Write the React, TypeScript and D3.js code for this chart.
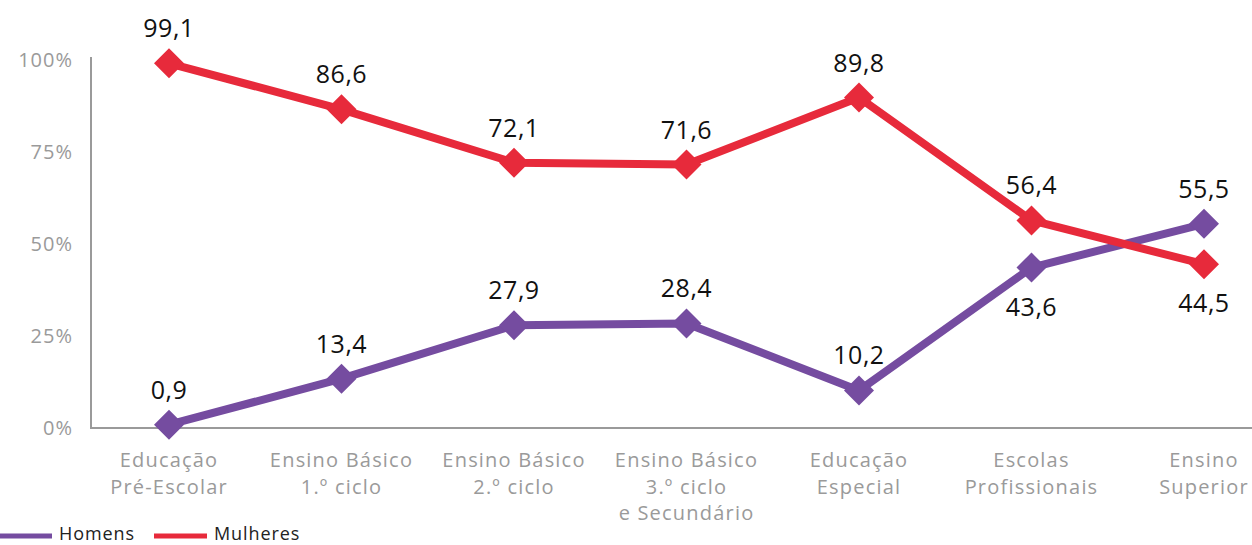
import React from "react";
import * as d3 from "d3";

const categories: string[][] = [
  ["Educação", "Pré-Escolar"],
  ["Ensino Básico", "1.º ciclo"],
  ["Ensino Básico", "2.º ciclo"],
  ["Ensino Básico", "3.º ciclo", "e Secundário"],
  ["Educação", "Especial"],
  ["Escolas", "Profissionais"],
  ["Ensino", "Superior"],
];
const homens = [0.9, 13.4, 27.9, 28.4, 10.2, 43.6, 55.5];
const mulheres = [99.1, 86.6, 72.1, 71.6, 89.8, 56.4, 44.5];
const yTicks = [0, 25, 50, 75, 100];
// label placement: true = above
const homensAbove = [true, true, true, true, true, false, true];
const mulheresAbove = [true, true, true, true, true, true, false];

const W = 1252;
const H = 545;
const PURPLE = "#754ca0";
const RED = "#e72a3b";
const GRAY = "#9a9a9a";
const FONT = "'Open Sans', sans-serif";

export default function App() {
  const idx = d3.range(categories.length);
  const x = d3.scalePoint<number>().domain(idx).range([169, 1204]);
  const y = d3.scaleLinear().domain([0, 100]).range([428, 60]);
  const line = d3
    .line<number>()
    .x((_, i) => x(i)!)
    .y((d) => y(d));
  const diamond = (cx: number, cy: number, r: number) =>
    `M${cx},${cy - r}L${cx + r},${cy}L${cx},${cy + r}L${cx - r},${cy}Z`;

  const series = [
    { name: "Homens", data: homens, color: PURPLE, above: homensAbove },
    { name: "Mulheres", data: mulheres, color: RED, above: mulheresAbove },
  ];

  return (
    <svg
      width={W}
      height={H}
      style={{ position: "absolute", left: 0, top: 0 }}
      fontFamily={FONT}
    >
      <rect width={W} height={H} fill="#fff" />
      {/* axes */}
      <line x1={91} x2={91} y1={57} y2={428} stroke={GRAY} strokeWidth={2} />
      <line x1={90} x2={W} y1={428} y2={428} stroke={GRAY} strokeWidth={2} />
      {yTicks.map((t) => (
        <text
          key={t}
          x={73}
          y={y(t)}
          dy="0.35em"
          textAnchor="end"
          fontSize={20}
          letterSpacing={1}
          fill={GRAY}
        >
          {t}%
        </text>
      ))}
      {categories.map((lines, i) => (
        <text
          key={i}
          x={x(i)}
          y={467}
          textAnchor="middle"
          fontSize={20}
          letterSpacing={1.2}
          fill={GRAY}
        >
          {lines.map((l, j) => (
            <tspan key={j} x={x(i)} y={467 + j * 26.5}>
              {l}
            </tspan>
          ))}
        </text>
      ))}
      {series.map((s) => (
        <g key={s.name}>
          <path
            d={line(s.data)!}
            fill="none"
            stroke={s.color}
            strokeWidth={8}
            strokeLinejoin="round"
          />
          {s.data.map((v, i) => (
            <path key={i} d={diamond(x(i)!, y(v), 15)} fill={s.color} />
          ))}
          {s.data.map((v, i) => (
            <text
              key={"t" + i}
              x={x(i)}
              y={y(v) + (s.above[i] ? -26 : 48)}
              textAnchor="middle"
              fontSize={25}
              letterSpacing={0.5}
              fill="#111"
            >
              {v.toFixed(1).replace(".", ",")}
            </text>
          ))}
        </g>
      ))}
      {/* legend */}
      <line x1={0} x2={52} y1={536} y2={536} stroke={PURPLE} strokeWidth={5} />
      <text x={59} y={540} fontSize={18} letterSpacing={0.9} fill="#222">
        Homens
      </text>
      <line x1={154} x2={207} y1={536} y2={536} stroke={RED} strokeWidth={5} />
      <text x={214} y={540} fontSize={18} letterSpacing={0.9} fill="#222">
        Mulheres
      </text>
    </svg>
  );
}
